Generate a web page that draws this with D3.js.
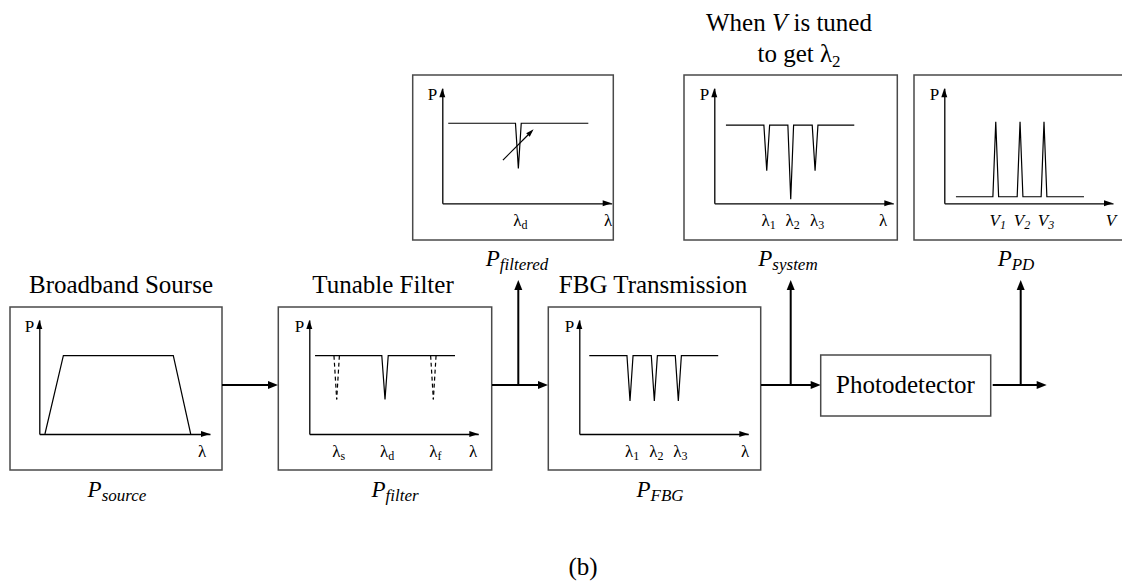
<!DOCTYPE html>
<html>
<head>
<meta charset="utf-8">
<script src="https://cdn.jsdelivr.net/npm/d3@7"></script>
<style>
  body { margin: 0; background: #fff; }
  svg { display: block; }
  text { font-family: "Liberation Serif", "Times New Roman", Times, serif; fill: #000; }
</style>
</head>
<body>
<svg width="1122" height="581" font-family="Liberation Serif, serif"></svg>
<script>
// ---- data (axis units: lambda / V 0..100, P 0..100) ----
const sourceShape = [[3.3, 0], [14.1, 68.7], [78.5, 68.7], [88.7, 0]];

const filterLevel = { from: 3.4, to: 86.2, p: 68.7 };
const filterDips = [{ c: 44.8, p: 30.4 }];
const filterGhostDips = [{ c: 16.2, p: 30.4 }, { c: 73.4, p: 30.4 }];
const filterTicks = [{ c: 16.2, base: "λ", sub: "s" }, { c: 44.8, base: "λ", sub: "d" }, { c: 73.4, base: "λ", sub: "f" }];

const fbgLevel = { from: 5.9, to: 82.2, p: 68.7 };
const fbgDips = [{ c: 30, p: 29 }, { c: 44.4, p: 29 }, { c: 58.6, p: 29 }];
const fbgTicks = [{ c: 30, base: "λ", sub: "1" }, { c: 44.4, base: "λ", sub: "2" }, { c: 58.6, base: "λ", sub: "3" }];

const filteredLevel = { from: 3.5, to: 86.2, p: 69.6 };
const filteredDips = [{ c: 44.9, p: 30.4 }];
const filteredTuning = [[35.8, 37.6], [53.9, 64.3]];
const filteredTicks = [{ c: 44.9, base: "λ", sub: "d" }];

const systemLevel = { from: 6.5, to: 78.2, p: 68 };
const systemDips = [{ c: 29.3, p: 28.3 }, { c: 42.7, p: 3.5 }, { c: 56.3, p: 28.3 }];
const systemTicks = [{ c: 29.3, base: "λ", sub: "1" }, { c: 42.7, base: "λ", sub: "2" }, { c: 56.3, base: "λ", sub: "3" }];

const pdLevel = { from: 6.9, to: 82.8, p: 5.7 };
const pdPeaks = [{ c: 30.5, p: 71 }, { c: 44.9, p: 71 }, { c: 59.1, p: 71 }];
const pdTicks = [{ c: 30.5, base: "V", sub: "1", it: true }, { c: 44.9, base: "V", sub: "2", it: true }, { c: 59.1, base: "V", sub: "3", it: true }];

// ---- layout ----
const panels = [
  { id: "source",   box: [10, 307, 212, 163],      ox: 39.3,  oy: 434,   xt: 210,   yt: 320,  endX: 202,  end: "λ" },
  { id: "filter",   box: [278.3, 307, 213.4, 163], ox: 309.3, oy: 434,   xt: 478.3, yt: 320,  endX: 473,  end: "λ" },
  { id: "fbg",      box: [548.3, 307, 212.4, 163], ox: 579.3, oy: 434,   xt: 748.3, yt: 320,  endX: 745,  end: "λ" },
  { id: "filtered", box: [412.7, 75, 200.6, 165],  ox: 442.3, oy: 203.3, xt: 611.7, yt: 88.3, endX: 608,  end: "λ" },
  { id: "system",   box: [684, 75, 213.3, 165],    ox: 714.3, oy: 203.3, xt: 893.3, yt: 88.3, endX: 883,  end: "λ" },
  { id: "pd",       box: [914, 75, 230, 165],      ox: 944.3, oy: 203.3, xt: 1113,  yt: 88.3, endX: 1111, end: "V", endIt: true }
];

const svg = d3.select("svg");

function head(g, x, y, dir, len, wid) {
  const pts = dir === "right"
    ? [[x, y], [x - len, y - wid / 2], [x - len, y + wid / 2]]
    : [[x, y], [x - wid / 2, y + len], [x + wid / 2, y + len]];
  g.append("path").attr("d", d3.line()(pts) + "Z").attr("fill", "#000");
}

function dipPoints(level, dips, half) {
  const pts = [[level.from, level.p]];
  dips.forEach(function(d) {
    pts.push([d.c - half, level.p], [d.c, d.p], [d.c + half, level.p]);
  });
  pts.push([level.to, level.p]);
  return pts;
}

function subLabel(g, x, y, base, sub, size, subSize, italic, dy) {
  const t = g.append("text").attr("x", x).attr("y", y).attr("text-anchor", "middle")
    .attr("font-size", size);
  t.append("tspan").text(base).attr("font-style", italic ? "italic" : "normal");
  t.append("tspan").text(sub).attr("dy", dy).attr("font-size", subSize)
    .attr("font-style", italic ? "italic" : "normal");
  return t;
}

const scales = {};
panels.forEach(function(p) {
  const g = svg.append("g").attr("id", p.id);
  g.append("rect")
    .attr("x", p.box[0]).attr("y", p.box[1])
    .attr("width", p.box[2]).attr("height", p.box[3])
    .attr("fill", "none").attr("stroke", "#4a4a4a").attr("stroke-width", 1.5);

  const x = d3.scaleLinear().domain([0, 100]).range([p.ox, p.xt]);
  const y = d3.scaleLinear().domain([0, 100]).range([p.oy, p.yt]);
  scales[p.id] = { x: x, y: y, g: g };

  g.append("g").attr("transform", "translate(0," + p.oy + ")")
    .call(d3.axisBottom(x).tickValues([]).tickSizeOuter(0))
    .attr("color", "#000").select(".domain").attr("stroke-width", 1.3);
  g.append("g").attr("transform", "translate(" + p.ox + ",0)")
    .call(d3.axisLeft(y).tickValues([]).tickSizeOuter(0))
    .attr("color", "#000").select(".domain").attr("stroke-width", 1.3);
  head(g, p.xt, p.oy, "right", 9, 6);
  head(g, p.ox, p.yt, "up", 9, 6);

  g.append("text").attr("x", p.ox - 5).attr("y", p.yt + 11.5).attr("text-anchor", "end")
    .attr("font-size", 17).text("P");
  g.append("text").attr("x", p.endX).attr("y", p.oy + 23).attr("text-anchor", "middle")
    .attr("font-size", 17).attr("font-style", p.endIt ? "italic" : "normal").text(p.end);
});

function curve(id, pts, dash) {
  const s = scales[id];
  s.g.append("path")
    .attr("d", d3.line().x(function(d) { return s.x(d[0]); }).y(function(d) { return s.y(d[1]); })(pts))
    .attr("fill", "none").attr("stroke", "#000").attr("stroke-width", 1.2)
    .attr("stroke-dasharray", dash || null);
}

function ticks(id, list) {
  const s = scales[id];
  list.forEach(function(t) {
    subLabel(s.g, s.x(t.c) + 2, s.y(0) + 23, t.base, t.sub, 17, 12, t.it, 3);
  });
}

// source
curve("source", sourceShape);

// tunable filter
curve("filter", dipPoints(filterLevel, filterDips, 1.9));
filterGhostDips.forEach(function(d) {
  curve("filter", [[d.c - 1.6, filterLevel.p], [d.c, d.p]], "4,3");
  curve("filter", [[d.c + 1.6, filterLevel.p], [d.c, d.p]], "4,3");
});
ticks("filter", filterTicks);

// FBG
curve("fbg", dipPoints(fbgLevel, fbgDips, 1.8));
ticks("fbg", fbgTicks);

// filtered
curve("filtered", dipPoints(filteredLevel, filteredDips, 1.7));
(function() {
  const s = scales.filtered;
  const a = filteredTuning.map(function(d) { return [s.x(d[0]), s.y(d[1])]; });
  const ang = Math.atan2(a[1][1] - a[0][1], a[1][0] - a[0][0]);
  const L = 8, W = 5;
  const bx = a[1][0] - L * Math.cos(ang), by = a[1][1] - L * Math.sin(ang);
  s.g.append("line").attr("x1", a[0][0]).attr("y1", a[0][1]).attr("x2", bx).attr("y2", by)
    .attr("stroke", "#000").attr("stroke-width", 1.2);
  const pts = [a[1], [bx + W / 2 * Math.sin(ang), by - W / 2 * Math.cos(ang)], [bx - W / 2 * Math.sin(ang), by + W / 2 * Math.cos(ang)]];
  s.g.append("path").attr("d", d3.line()(pts) + "Z").attr("fill", "#000");
})();
ticks("filtered", filteredTicks);

// system
curve("system", dipPoints(systemLevel, systemDips, 1.6));
ticks("system", systemTicks);

// photodetector output
curve("pd", dipPoints(pdLevel, pdPeaks, 1.7));
ticks("pd", pdTicks);

// ---- block titles and signal names ----
const titles = [
  { x: 121, y: 293, text: "Broadband Sourse" },
  { x: 383, y: 293, text: "Tunable Filter" },
  { x: 653, y: 293, text: "FBG Transmission" }
];
titles.forEach(function(t) {
  svg.append("text").attr("x", t.x).attr("y", t.y).attr("text-anchor", "middle")
    .attr("font-size", 25).text(t.text);
});

const when = svg.append("text").attr("x", 789).attr("y", 31).attr("font-size", 25)
  .attr("text-anchor", "middle");
when.append("tspan").text("When ");
when.append("tspan").text("V").attr("font-style", "italic");
when.append("tspan").text(" is tuned");
subLabel(svg, 799, 62, "to get λ", "2", 25, 17, false, 5);

const signals = [
  { x: 117, y: 497, sub: "source" },
  { x: 395, y: 497, sub: "filter" },
  { x: 660, y: 497, sub: "FBG" },
  { x: 517, y: 266, sub: "filtered" },
  { x: 788, y: 266, sub: "system" },
  { x: 1016, y: 266, sub: "PD" }
];
signals.forEach(function(s) {
  subLabel(svg, s.x, s.y, "P", s.sub, 23, 17, true, 4);
});

// ---- flow arrows ----
const flow = svg.append("g");
const flowY = 385;
const hArrows = [[222, 278], [492, 548], [761, 820.7], [992.7, 1046.7]];
hArrows.forEach(function(a) {
  flow.append("line").attr("x1", a[0]).attr("y1", flowY).attr("x2", a[1] - 8).attr("y2", flowY)
    .attr("stroke", "#000").attr("stroke-width", 2);
  head(flow, a[1], flowY, "right", 10, 8);
});
const vArrows = [518.3, 790.7, 1020.7];
vArrows.forEach(function(x) {
  flow.append("line").attr("x1", x).attr("y1", flowY - 1).attr("x2", x).attr("y2", 288)
    .attr("stroke", "#000").attr("stroke-width", 2);
  head(flow, x, 280, "up", 10, 8);
});

flow.append("rect").attr("x", 820.7).attr("y", 355).attr("width", 170).attr("height", 61)
  .attr("fill", "none").attr("stroke", "#4a4a4a").attr("stroke-width", 1.5);
flow.append("text").attr("x", 905.5).attr("y", 393).attr("text-anchor", "middle")
  .attr("font-size", 25).text("Photodetector");

svg.append("text").attr("x", 583).attr("y", 575).attr("text-anchor", "middle")
  .attr("font-size", 25).text("(b)");
</script>
</body>
</html>
